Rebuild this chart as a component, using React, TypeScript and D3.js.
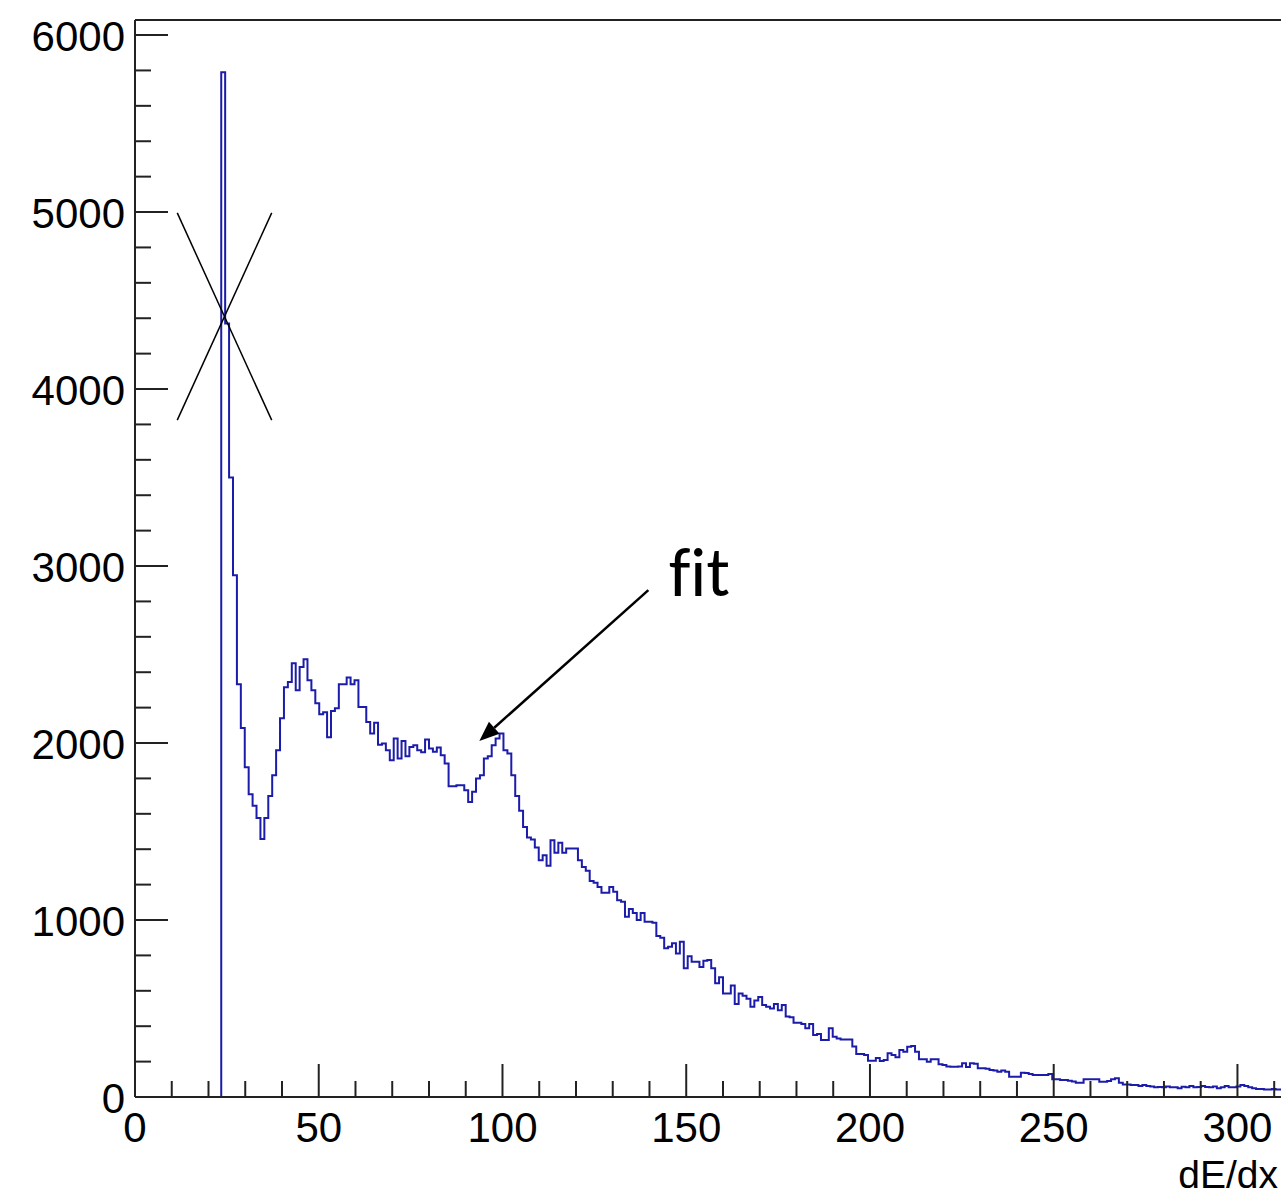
import React from 'react';
import * as d3 from 'd3';

// Histogram: 300 bins over [0, 320] -> bin width 16/15
const BIN_WIDTH = 320 / 300;
const FIRST_BIN = 22;
const counts: number[] = [
  5790, 4370, 3500, 2948, 2332, 2085, 1863, 1711, 1645, 1577,
  1457, 1577, 1701, 1818, 1959, 2140, 2315, 2345, 2450, 2298,
  2430, 2473, 2355, 2298, 2225, 2163, 2174, 2033, 2181, 2197,
  2332, 2332, 2370, 2332, 2355, 2204, 2204, 2119, 2054, 2115,
  1990, 1997, 1959, 1903, 2025, 1912, 2012, 1925, 1978, 1988,
  1959, 1948, 2020, 1969, 1950, 1975, 1931, 1884, 1756, 1756,
  1762, 1762, 1733, 1667, 1724, 1800, 1818, 1912, 1925, 1988,
  2025, 2054, 1959, 1941, 1818, 1700, 1617, 1526, 1466, 1455,
  1410, 1338, 1366, 1306, 1451, 1380, 1436, 1380, 1404, 1404,
  1404, 1338, 1300, 1278, 1221, 1210, 1187, 1154, 1154, 1187,
  1159, 1112, 1103, 1018, 1062, 1040, 1000, 1040, 990, 990,
  985, 910, 900, 840, 849, 868, 811, 877, 727, 795,
  764, 764, 735, 770, 774, 727, 642, 676, 585, 585,
  630, 525, 585, 572, 555, 510, 545, 565, 520, 510,
  500, 525, 490, 520, 455, 450, 420, 420, 412, 388,
  412, 350, 356, 322, 322, 388, 340, 330, 325, 325,
  325, 285, 243, 243, 237, 205, 205, 220, 203, 209,
  247, 237, 224, 265, 256, 284, 288, 256, 213, 213,
  199, 213, 213, 185, 181, 172, 171, 171, 172, 190,
  170, 190, 188, 162, 162, 160, 152, 150, 143, 150,
  143, 115, 115, 115, 137, 135, 130, 124, 124, 124,
  125, 130, 100, 100, 96, 96, 92, 88, 81, 81,
  100, 100, 100, 100, 86, 86, 90, 100, 106, 80,
  70, 70, 68, 68, 62, 68, 62, 60, 55, 57,
  55, 60, 55, 55, 50, 58, 55, 62, 55, 57,
  62, 57, 55, 60, 50, 55, 62, 55, 55, 60,
  68, 62, 55, 50, 45, 45, 43, 43, 45, 43,
  43, 45, 43,
];

const xMajorTicks = [0, 50, 100, 150, 200, 250, 300];
const yMajorTicks = [0, 1000, 2000, 3000, 4000, 5000, 6000];
const xTitle = 'dE/dx';
const annotationText = 'fit';
// annotation geometry in data coordinates
const crossX = [11.5, 37.2];
const crossY = [4995, 3824];
const arrowFrom = [139.7, 2864];
const arrowTo = [93.7, 2011];
const fitLabelPos = [145.3, 2830];

export default function App() {
  const W = 1281;
  const H = 1197;
  const x = d3.scaleLinear().domain([0, 314.3]).range([135, 1290]);
  const y = d3.scaleLinear().domain([0, 6085]).range([1097, 20]);
  const [x0, x1] = x.range();
  const [yb, yt] = y.range();

  const pts: [number, number][] = [];
  pts.push([FIRST_BIN * BIN_WIDTH, 0]);
  counts.forEach((c, i) => pts.push([(FIRST_BIN + i) * BIN_WIDTH, c]));
  pts.push([(FIRST_BIN + counts.length) * BIN_WIDTH, counts[counts.length - 1]]);
  const line = d3
    .line<[number, number]>()
    .x((d) => x(d[0]))
    .y((d) => y(d[1]))
    .curve(d3.curveStepAfter);

  const xMinor = d3.range(0, 314.3, 10).filter((v) => v % 50 !== 0);
  const yMinor = d3.range(0, 6085, 200).filter((v) => v % 1000 !== 0);

  // arrow head
  const ax1 = x(arrowFrom[0]), ay1 = y(arrowFrom[1]);
  const ax2 = x(arrowTo[0]), ay2 = y(arrowTo[1]);
  const ang = Math.atan2(ay2 - ay1, ax2 - ax1);
  const headLen = 20, headHalf = 8;
  const bx = ax2 - headLen * Math.cos(ang);
  const by = ay2 - headLen * Math.sin(ang);
  const px = -Math.sin(ang), py = Math.cos(ang);
  const head = `${ax2},${ay2} ${bx + px * headHalf},${by + py * headHalf} ${bx - px * headHalf},${by - py * headHalf}`;

  const font = "'Liberation Sans', Arial, Helvetica, sans-serif";
  const majorLen = 33, minorLen = 16;

  return (
    <svg
      width={W}
      height={H}
      style={{ position: 'absolute', left: 0, top: 0, background: '#fff' }}
    >
      <rect x={0} y={0} width={W} height={H} fill="#fff" />
      <path d={line(pts) || ''} fill="none" stroke="#1c1caa" strokeWidth={2} />

      {/* frame */}
      <line x1={x0} y1={yt} x2={x1 + 10} y2={yt} stroke="#222" strokeWidth={2} />
      <line x1={x0} y1={yt} x2={x0} y2={yb} stroke="#222" strokeWidth={2} />
      <line x1={x0} y1={yb} x2={x1 + 10} y2={yb} stroke="#222" strokeWidth={2} />

      {/* x ticks */}
      {xMajorTicks.map((t) => (
        <line key={'xM' + t} x1={x(t)} x2={x(t)} y1={yb} y2={yb - majorLen} stroke="#222" strokeWidth={2} />
      ))}
      {xMinor.map((t) => (
        <line key={'xm' + t} x1={x(t)} x2={x(t)} y1={yb} y2={yb - minorLen} stroke="#222" strokeWidth={2} />
      ))}
      {xMajorTicks.map((t) => (
        <text key={'xl' + t} x={x(t)} y={yb + 45} textAnchor="middle" fontFamily={font} fontSize={42} fill="#000">
          {t}
        </text>
      ))}

      {/* y ticks */}
      {yMajorTicks.map((t) => (
        <line key={'yM' + t} x1={x0} x2={x0 + majorLen} y1={y(t)} y2={y(t)} stroke="#222" strokeWidth={2} />
      ))}
      {yMinor.map((t) => (
        <line key={'ym' + t} x1={x0} x2={x0 + minorLen} y1={y(t)} y2={y(t)} stroke="#222" strokeWidth={2} />
      ))}
      {yMajorTicks.map((t) => (
        <text key={'yl' + t} x={x0 - 10} y={y(t) + 16} textAnchor="end" fontFamily={font} fontSize={42} fill="#000">
          {t}
        </text>
      ))}

      <text x={1278} y={1188} textAnchor="end" fontFamily={font} fontSize={39} fill="#000">
        {xTitle}
      </text>

      {/* annotations */}
      <line x1={x(crossX[0])} y1={y(crossY[0])} x2={x(crossX[1])} y2={y(crossY[1])} stroke="#000" strokeWidth={1.5} />
      <line x1={x(crossX[1])} y1={y(crossY[0])} x2={x(crossX[0])} y2={y(crossY[1])} stroke="#000" strokeWidth={1.5} />
      <line x1={ax1} y1={ay1} x2={bx} y2={by} stroke="#000" strokeWidth={2.5} />
      <polygon points={head} fill="#000" />
      <text
        x={x(fitLabelPos[0])}
        y={y(fitLabelPos[1])}
        fontFamily="Calibri, Carlito, Lato, 'Open Sans', sans-serif"
        fontSize={70}
        fill="#000"
        style={{ fontVariantLigatures: 'none', fontFeatureSettings: '"liga" 0, "clig" 0' }}
      >
        {annotationText}
      </text>
    </svg>
  );
}
